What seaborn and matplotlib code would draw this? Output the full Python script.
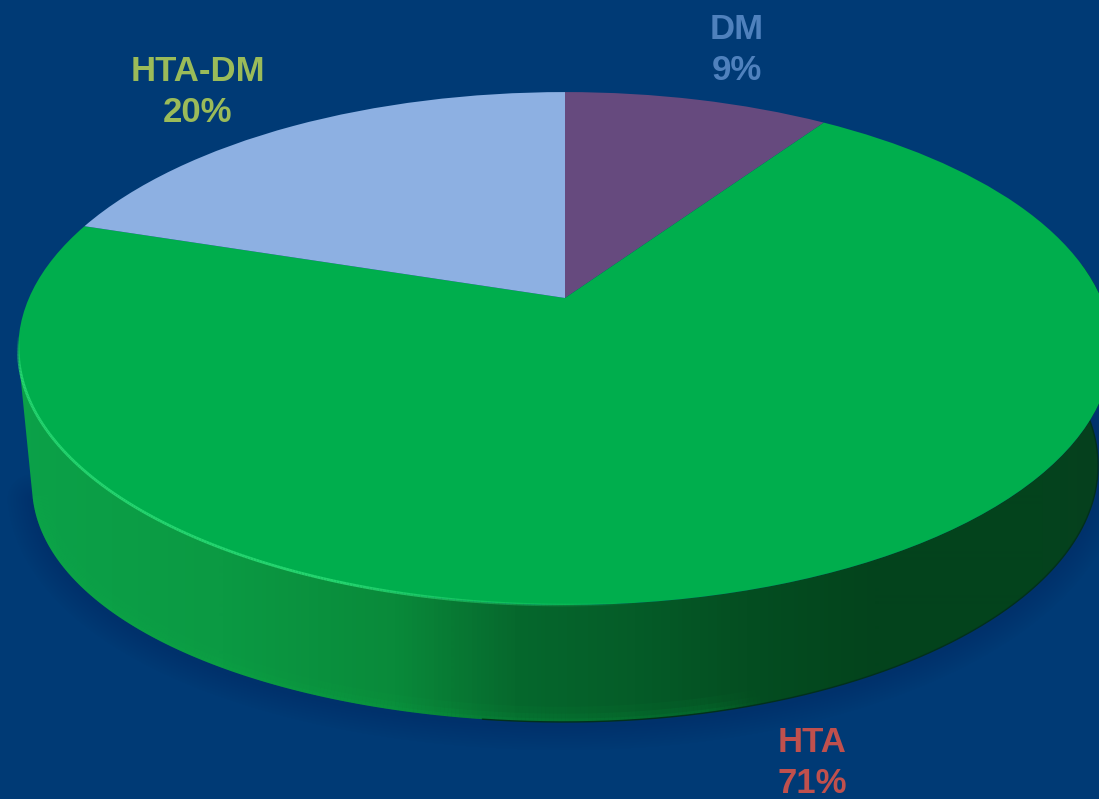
import numpy as np
import matplotlib
matplotlib.use("Agg")
import matplotlib.pyplot as plt
import seaborn as sns
from matplotlib.collections import LineCollection
from matplotlib.colors import LinearSegmentedColormap
from matplotlib.patches import Polygon
from matplotlib.transforms import Transform

categories = ["DM", "HTA", "HTA-DM"]
shares = [9.49, 70.51, 20.0]      # slice sizes
labels = [9, 71, 20]              # percentages printed on the chart
slice_colors = ["#664A7E", "#00AE4D", "#8DB0E2"]
text_colors = ["#4F81BD", "#C0504D", "#9BBB59"]
label_anchor = [(737, 50), (812, 763), (198, 92)]

BG = "#003A75"
CX, CY, AX_X, AX_Y, K = 565.0, 298.0, 536.0, 246.5, 0.197
DEPTH, SHRINK, LEFT_SAG = 117.0, 0.975, 20.0


class Tilt(Transform):
    """Projects the flat unit pie onto the receding disc, in pixel-like data units."""
    input_dims = 2
    output_dims = 2
    is_affine = False
    has_inverse = False

    def __init__(self, scale=1.0, drop=0.0, sag=0.0):
        super().__init__()
        self.scale = scale
        self.drop = drop
        self.sag = sag

    def transform_non_affine(self, pts):
        pts = np.asarray(pts, dtype=float)
        d = 1 + K * pts[:, 1]
        extra = self.sag * np.clip(-pts[:, 0], 0, 1) ** 2
        return np.column_stack([
            CX + self.scale * AX_X * pts[:, 0] / d,
            CY + self.drop + extra - AX_Y * pts[:, 1] / d,
        ])


sns.set_theme(style="white")
plt.rcParams["font.family"] = ["Liberation Sans", "DejaVu Sans"]

fig = plt.figure(figsize=(10.99, 7.99), dpi=100, facecolor=BG)
ax = fig.add_axes([0, 0, 1, 1], facecolor=BG)

wedges, _ = ax.pie(shares, colors=slice_colors, startangle=90, counterclock=False,
                   radius=1, center=(0, 0))
top = Tilt()
bottom = Tilt(SHRINK, DEPTH, LEFT_SAG)
for w in wedges:
    w.set_transform(top + ax.transData)
    w.set_linewidth(0)
    w.set_zorder(5)

phi = np.radians(np.linspace(194, 368, 500))
unit = np.column_stack([np.cos(phi), np.sin(phi)])
top_curve = top.transform_non_affine(unit)
bot_curve = bottom.transform_non_affine(unit)

# soft shadow below the disc
for lw in np.arange(4, 40, 4):
    ax.plot(bot_curve[:, 0], bot_curve[:, 1] + 3, color="#001F55", lw=lw, alpha=0.03,
            zorder=1, solid_capstyle="round")

# rim with a horizontal light falloff
rim_cmap = LinearSegmentedColormap.from_list("rim", [
    (0.00, "#0CA249"), (0.20, "#0B9A43"), (0.36, "#098A3A"), (0.47, "#06682D"),
    (0.58, "#055C28"), (0.68, "#044E21"), (0.80, "#03431C"), (0.95, "#04431D"),
    (1.00, "#06401E"),
])
gx = np.linspace(0, 1, 1099)[None, :]
image = ax.imshow(gx, extent=(0, 1099, 799, 0), cmap=rim_cmap, vmin=0, vmax=1,
                  aspect="auto", zorder=2, interpolation="bilinear")
rim = Polygon(np.vstack([top_curve, bot_curve[::-1]]), closed=True, transform=ax.transData,
              facecolor="none", edgecolor="none")
ax.add_patch(rim)
image.set_clip_path(rim)

# lighter band along the bottom of the rim, on its lit side
bsegs = np.stack([bot_curve[:-1], bot_curve[1:]], axis=1)
bx = bsegs[:, :, 0].mean(axis=1)
for width, strength in [(22, 0.05), (12, 0.07), (5, 0.09)]:
    a = np.clip((770 - bx) / 60, 0, 1) * strength
    band = LineCollection(bsegs, colors=[(0.05, 0.72, 0.30, v) for v in a],
                          linewidths=width, zorder=3, capstyle="butt")
    ax.add_collection(band)
    band.set_clip_path(rim)

# thin dark line along the bottom right of the rim
mask = bot_curve[:, 0] > 480
ax.plot(bot_curve[mask, 0], bot_curve[mask, 1], color="#02301C", lw=1, zorder=4)

# highlight on the top edge of the rim, fading towards the front
phi_hl = np.radians(np.linspace(176, 300, 400))
hl_curve = top.transform_non_affine(np.column_stack([np.cos(phi_hl), np.sin(phi_hl)]))
segs = np.stack([hl_curve[:-1], hl_curve[1:]], axis=1)
xm = segs[:, :, 0].mean(axis=1)
ym = segs[:, :, 1].mean(axis=1)
alpha = np.clip((640 - xm) / 300, 0, 1) * np.clip((ym - 335) / 40, 0, 1) * 0.9
hl = LineCollection(segs, colors=[(0.16, 0.86, 0.45, a) for a in alpha], linewidths=2.0, zorder=6)
ax.add_collection(hl)

for name, val, col, (tx, ty) in zip(categories, labels, text_colors, label_anchor):
    ax.text(tx, ty, f"{name}\n{val}%", color=col, fontsize=25, fontweight="bold",
            ha="center", va="center", linespacing=1.27, zorder=8)

ax.set_aspect("auto")
ax.set_xlim(0, 1099)
ax.set_ylim(799, 0)
ax.set_axis_off()
fig.savefig("out.png", dpi=100, facecolor=BG)
